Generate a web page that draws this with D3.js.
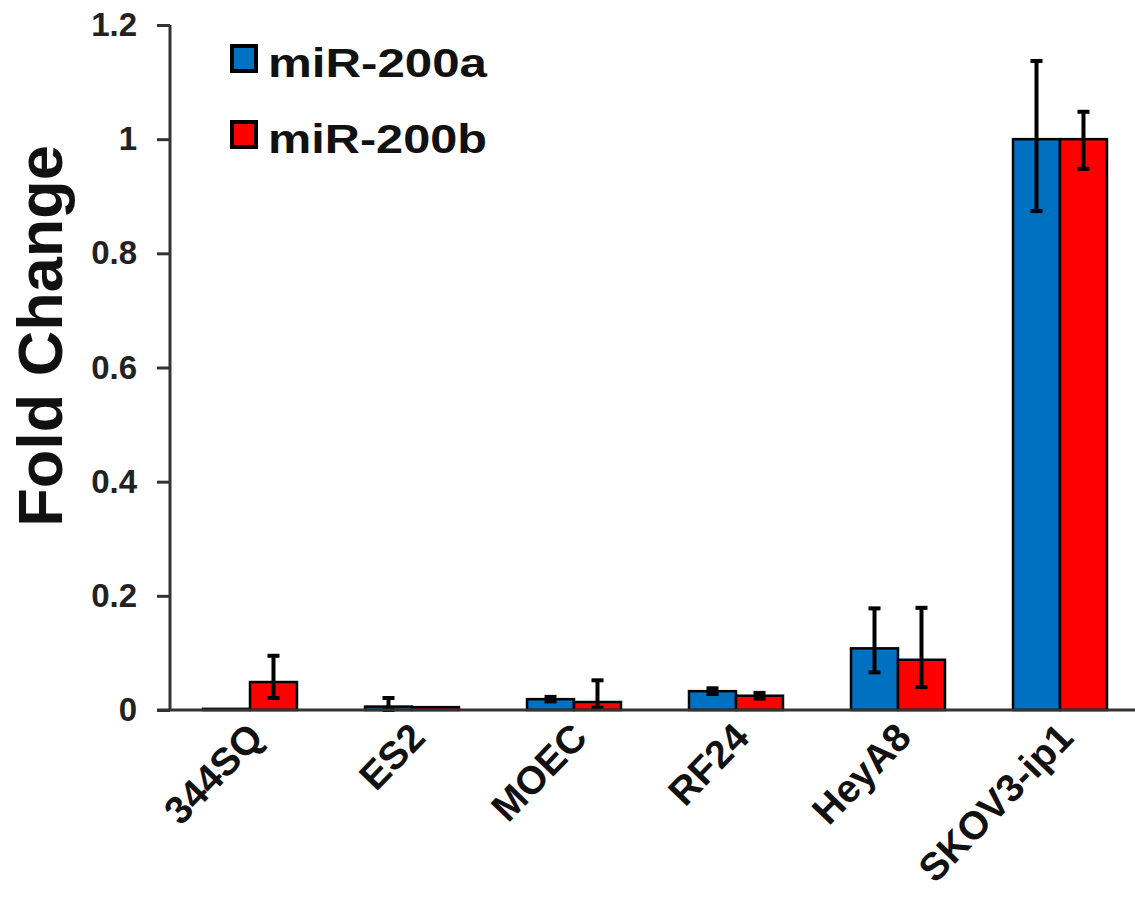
<!DOCTYPE html>
<html>
<head>
<meta charset="utf-8">
<script src="https://cdn.jsdelivr.net/npm/d3@7"></script>
<style>
  body { margin: 0; background: #fff; }
  text { font-family: Arial, "Liberation Sans", sans-serif; font-weight: bold; }
</style>
</head>
<body>
<svg id="chart" width="1135" height="899"></svg>
<script>
// data
const cellLines = ['344SQ', 'ES2', 'MOEC', 'RF24', 'HeyA8', 'SKOV3-ip1'];
const seriesNames = ['miR-200a', 'miR-200b'];
const seriesColors = ['#0070C0', '#FF0000'];
const mir200a = [0.002, 0.006, 0.019, 0.033, 0.108, 1.0];
const mir200b = [0.049, 0.005, 0.014, 0.025, 0.088, 1.0];
const mir200aErrUp = [0, 0.015, 0.004, 0.005, 0.070, 0.137];
const mir200aErrDown = [0, 0.006, 0.004, 0.005, 0.042, 0.126];
const mir200bErrUp = [0.046, 0, 0.038, 0.005, 0.091, 0.048];
const mir200bErrDown = [0.028, 0, 0.010, 0.005, 0.048, 0.052];
const yTicks = [0, 0.2, 0.4, 0.6, 0.8, 1, 1.2];

const svg = d3.select('#chart');
const axisColor = '#333';

const x = d3.scaleBand()
  .domain(cellLines)
  .range([169, 1141])
  .paddingInner(0.42)
  .paddingOuter(0.21);

const xs = d3.scaleBand()
  .domain(seriesNames)
  .range([0, x.bandwidth()]);

const y = d3.scaleLinear()
  .domain([0, 1.2])
  .range([710, 25]);

// build rows for bars
let rows = [];
cellLines.forEach((c, i) => {
  rows.push({cat: c, s: 0, v: mir200a[i], up: mir200aErrUp[i], down: mir200aErrDown[i]});
  rows.push({cat: c, s: 1, v: mir200b[i], up: mir200bErrUp[i], down: mir200bErrDown[i]});
});

// bars
svg.append('g').selectAll('rect')
  .data(rows)
  .enter()
  .append('rect')
  .attr('x', d => x(d.cat) + xs(seriesNames[d.s]))
  .attr('y', d => y(d.v))
  .attr('width', xs.bandwidth())
  .attr('height', d => y(0) - y(d.v))
  .attr('fill', d => seriesColors[d.s])
  .attr('stroke', '#000')
  .attr('stroke-width', 2.5);

// error bars
const err = svg.append('g')
  .attr('stroke', '#000')
  .attr('stroke-width', 4);

rows.filter(d => d.up > 0 || d.down > 0).forEach(d => {
  const cx = x(d.cat) + xs(seriesNames[d.s]) + xs.bandwidth() / 2;
  const top = y(d.v + d.up), bot = y(d.v - d.down);
  err.append('line').attr('x1', cx).attr('x2', cx).attr('y1', top).attr('y2', bot);
  if (d.up > 0) err.append('line').attr('x1', cx - 6).attr('x2', cx + 6).attr('y1', top).attr('y2', top);
  if (d.down > 0) err.append('line').attr('x1', cx - 6).attr('x2', cx + 6).attr('y1', bot).attr('y2', bot);
});

// y axis
const yAxis = svg.append('g')
  .attr('transform', 'translate(170,0)')
  .call(d3.axisLeft(y).tickValues(yTicks).tickSize(13).tickPadding(20)
    .tickFormat(d => d3.format('~g')(d)));
yAxis.select('.domain').attr('stroke', axisColor).attr('stroke-width', 3)
  .attr('d', `M0,${y(1.2)}V${y(0)}`);
yAxis.selectAll('.tick line').attr('stroke', axisColor).attr('stroke-width', 3);
yAxis.selectAll('.tick text')
  .attr('fill', '#222')
  .style('font-size', '33px')
  .style('font-family', 'Arial, "Liberation Sans", sans-serif')
  .style('font-weight', 'bold');

// x axis baseline
svg.append('line')
  .attr('x1', 157).attr('x2', 1135)
  .attr('y1', y(0)).attr('y2', y(0))
  .attr('stroke', axisColor).attr('stroke-width', 3);

// x labels
svg.append('g').selectAll('text')
  .data(cellLines)
  .enter()
  .append('text')
  .attr('transform', d => `translate(${x(d) + x.bandwidth() / 2 - 5},${720}) rotate(-46)`)
  .attr('text-anchor', 'end')
  .attr('dy', '0.72em')
  .style('font-size', '39px')
  .attr('fill', '#111')
  .text(d => d);

// y label
svg.append('text')
  .attr('transform', 'translate(62,336) rotate(-90)')
  .attr('text-anchor', 'middle')
  .style('font-size', '63px')
  .attr('fill', '#111')
  .text('Fold Change');

// legend
const legend = svg.append('g');
seriesNames.forEach((s, i) => {
  const ly = 46 + i * 76;
  legend.append('rect')
    .attr('x', 232).attr('y', ly)
    .attr('width', 24).attr('height', 25)
    .attr('fill', seriesColors[i])
    .attr('stroke', '#000')
    .attr('stroke-width', 4);
  legend.append('text')
    .attr('x', 268).attr('y', ly + 31)
    .style('font-size', '40px')
    .attr('textLength', 219)
    .attr('lengthAdjust', 'spacingAndGlyphs')
    .attr('fill', '#111')
    .text(s);
});
</script>
</body>
</html>
